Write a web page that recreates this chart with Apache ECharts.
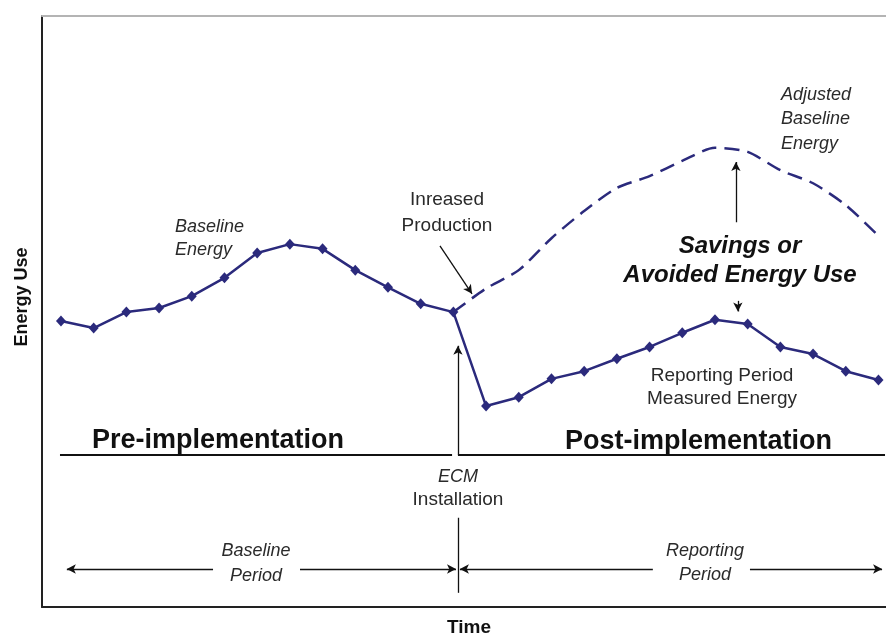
<!DOCTYPE html>
<html>
<head>
<meta charset="utf-8">
<title>Energy Use</title>
<script src="https://cdn.jsdelivr.net/npm/echarts@6.0.0/dist/echarts.min.js"></script>
<style>
html,body{margin:0;padding:0;background:#fff;}
#main{width:886px;height:636px;}
</style>
</head>
<body>
<div id="main"></div>
<script>
// measured energy, one value per time step (0..25)
var measuredEnergy = [48.4, 47.2, 49.9, 50.6, 52.6, 55.7, 59.9, 61.4, 60.6, 57.0, 54.1, 51.3, 49.9,
                      34.0, 35.5, 38.6, 39.9, 42.0, 44.0, 46.4, 48.6, 47.9, 44.0, 42.8, 39.9, 38.4];
// adjusted baseline starts at the ECM step
var adjustedStart = 12;
var adjustedBaseline = [49.9, 53.9, 57.0, 62.4, 67.0, 70.9, 72.9, 75.5, 77.7, 77.0, 73.9, 71.7, 68.0, 62.8];

// annotation lines in data units: [x1, y1, x2, y2, arrow at start, arrow at end]
var noteLines = [
    [11.59, 61.1, 12.57, 53.0, false, true],   // increased production
    [12.14, 25.7, 12.14, 44.2, false, true],   // ECM installation
    [20.64, 65.1, 20.64, 75.3, false, true],   // savings up
    [20.70, 51.8, 20.70, 50.0, false, true],   // savings down
    [-0.03, 25.7, 11.96, 25.7, false, false],  // pre line
    [12.14, 25.7, 25.2, 25.7, false, false],   // post line
    [12.14, 15.1, 12.14, 2.4, false, false],   // ECM tick
    [0.18, 6.43, 4.65, 6.43, true, false],     // baseline period
    [7.31, 6.43, 12.08, 6.43, false, true],
    [12.20, 6.43, 18.10, 6.43, true, false],   // reporting period
    [21.07, 6.43, 25.11, 6.43, false, true]
];

var lineColor = '#2b2a7c';
var textColor = '#2a2a2a';
var font = '"Liberation Sans", Arial, sans-serif';

var measuredData = [];
for (var i = 0; i < measuredEnergy.length; i++) {
    measuredData.push([i, measuredEnergy[i]]);
}
var adjustedData = [];
for (var j = 0; j < adjustedBaseline.length; j++) {
    adjustedData.push([adjustedStart + j, adjustedBaseline[j]]);
}

var markData = [];
for (var k = 0; k < noteLines.length; k++) {
    var n = noteLines[k];
    var w = (k == 4 || k == 5) ? 1.8 : 1.3;
    markData.push([
        {coord: [n[0], n[1]], symbol: n[4] ? 'arrow' : 'none', lineStyle: {color: '#111', width: w, type: 'solid'}},
        {coord: [n[2], n[3]], symbol: n[5] ? 'arrow' : 'none'}
    ]);
}

function txt(text, x, y, align, style, lh, color) {
    return {
        type: 'text',
        x: x,
        y: y,
        silent: true,
        style: {
            text: text,
            font: style + ' ' + font,
            fill: color || textColor,
            align: align,
            textAlign: align,
            verticalAlign: 'middle',
            textVerticalAlign: 'middle',
            lineHeight: lh || 22
        }
    };
}

var energyLabel = txt('Energy Use', 22, 297, 'center', 'bold 18px', 20, '#111');
energyLabel.rotation = Math.PI / 2;

var option = {
    animation: false,
    grid: {
        left: 42,
        right: 0,
        top: 16,
        bottom: 29
    },
    xAxis: [
        {
            type: 'value',
            min: -0.58,
            max: 25.23,
            position: 'bottom',
            axisLine: {show: true, onZero: false, lineStyle: {color: '#222', width: 2}},
            axisTick: {show: false},
            axisLabel: {show: false},
            splitLine: {show: false}
        },
        {
            type: 'value',
            min: -0.58,
            max: 25.23,
            position: 'top',
            axisLine: {show: true, onZero: false, lineStyle: {color: '#b4b4b4', width: 2}},
            axisTick: {show: false},
            axisLabel: {show: false},
            splitLine: {show: false}
        }
    ],
    yAxis: {
        type: 'value',
        min: 0,
        max: 100,
        axisLine: {show: true, onZero: false, lineStyle: {color: '#222', width: 2}},
        axisTick: {show: false},
        axisLabel: {show: false},
        splitLine: {show: false}
    },
    series: [
        {
            name: 'Adjusted Baseline Energy',
            type: 'line',
            data: adjustedData,
            smooth: 0.25,
            showSymbol: false,
            lineStyle: {color: lineColor, width: 2.5, type: [15, 8]},
            z: 2
        },
        {
            name: 'Measured Energy',
            type: 'line',
            data: measuredData,
            symbol: 'diamond',
            symbolSize: [10, 11],
            itemStyle: {color: lineColor},
            lineStyle: {color: lineColor, width: 2.5},
            z: 3,
            markLine: {
                silent: true,
                animation: false,
                symbolSize: [7, 9],
                label: {show: false},
                emphasis: {disabled: true},
                data: markData
            }
        }
    ],
    graphic: [
        energyLabel,
        txt('Time', 469, 628, 'center', 'bold 19px', 20, '#111'),
        txt('Baseline\nEnergy', 175, 238, 'left', 'italic 18px', 23),
        txt('Inreased\nProduction', 447, 213, 'center', '19px', 26),
        txt('Adjusted\nBaseline\nEnergy', 781, 119, 'left', 'italic 18px', 24.5),
        txt('Savings or\nAvoided Energy Use', 740, 261, 'center', 'italic bold 24px', 29, '#111'),
        txt('Reporting Period\nMeasured Energy', 722, 387, 'center', '19px', 23),
        txt('Pre-implementation', 92, 441, 'left', 'bold 27px', 30, '#111'),
        txt('Post-implementation', 565, 442, 'left', 'bold 27px', 30, '#111'),
        txt('ECM', 458, 477, 'center', 'italic 18px', 22),
        txt('Installation', 458, 500, 'center', '19px', 22),
        txt('Baseline\nPeriod', 256, 563, 'center', 'italic 18px', 25),
        txt('Reporting\nPeriod', 705, 563, 'center', 'italic 18px', 24)
    ]
};

var myChart = echarts.init(document.getElementById('main'));
myChart.setOption(option);
</script>
</body>
</html>
